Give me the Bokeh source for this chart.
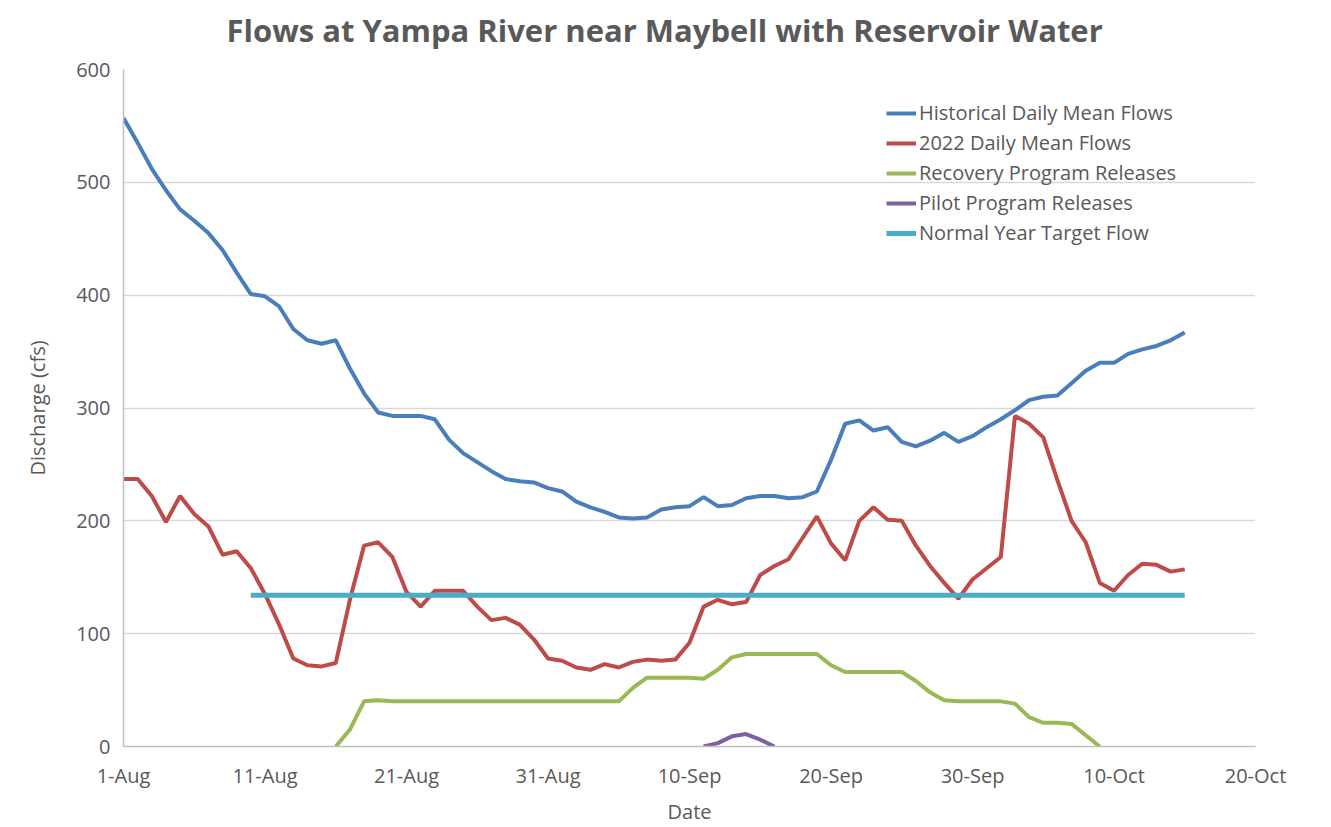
from bokeh.plotting import figure
from bokeh.models import Range1d, FixedTicker, Legend, LegendItem, Title
from bokeh.embed import file_html
from bokeh.resources import INLINE

# ---- data (day offsets from 1-Aug-2022) ----
hist_days = list(range(0, 76))
hist_flow = [557, 535, 512, 493, 476, 466, 455, 440, 420, 401,
             399, 390, 370, 360, 357, 360, 335, 313, 296, 293,
             293, 293, 290, 272, 260, 252, 244, 237, 235, 234,
             229, 226, 217, 212, 208, 203, 202, 203, 210, 212,
             213, 221, 213, 214, 220, 222, 222, 220, 221, 226,
             254, 286, 289, 280, 283, 270, 266, 271, 278, 270,
             275, 283, 290, 298, 307, 310, 311, 322, 333, 340,
             340, 348, 352, 355, 360, 367]

flow2022_days = list(range(0, 76))
flow2022 = [237, 237, 222, 199, 222, 206, 195, 170, 173, 158,
            135, 108, 78, 72, 71, 74, 130, 178, 181, 168,
            137, 124, 138, 138, 138, 124, 112, 114, 108, 95,
            78, 76, 70, 68, 73, 70, 75, 77, 76, 77,
            92, 124, 130, 126, 128, 152, 160, 166, 185, 204,
            180, 165, 200, 212, 201, 200, 178, 160, 145, 131,
            148, 158, 168, 293, 286, 274, 236, 200, 181, 145,
            138, 152, 162, 161, 155, 157]

recovery_days = list(range(15, 70))
recovery = [0, 15, 40, 41, 40, 40, 40, 40, 40, 40,
            40, 40, 40, 40, 40, 40, 40, 40, 40, 40,
            40, 52, 61, 61, 61, 61, 60, 68, 79, 82,
            82, 82, 82, 82, 82, 72, 66, 66, 66, 66,
            66, 58, 48, 41, 40, 40, 40, 40, 38, 26,
            21, 21, 20, 10, 0]

pilot_days = [41, 42, 43, 44, 45, 46]
pilot = [0, 3, 9, 11, 6, 0]

target_days = [9, 75]
target = [134, 134]

tick_days = [0, 10, 20, 30, 40, 50, 60, 70, 80]
tick_labels = ["1-Aug", "11-Aug", "21-Aug", "31-Aug", "10-Sep",
               "20-Sep", "30-Sep", "10-Oct", "20-Oct"]

TITLE = "Flows at Yampa River near Maybell with Reservoir Water"
FONT = "Open Sans"
GRAY = "#595959"

p = figure(width=1320, height=827, output_backend="svg", toolbar_location=None,
           x_range=Range1d(0, 80), y_range=Range1d(0, 600),
           min_border_left=123, min_border_right=65, min_border_top=69,
           min_border_bottom=81, title=TITLE)
p.title.align = "left"
p.title.offset = 103
p.title.vertical_align = "top"
p.title.standoff = 6
p.title.text_font = FONT
p.title.text_font_size = "31px"
p.title.text_font_style = "bold"
p.title.text_color = GRAY
p.outline_line_color = None

# empty spacer between the title and the plot frame
p.add_layout(Title(text=" ", text_font_size="11px", standoff=0), "above")

p.xgrid.grid_line_color = None
p.ygrid.grid_line_color = "#d9d9d9"
p.ygrid.grid_line_width = 1.5

p.xaxis.ticker = FixedTicker(ticks=tick_days)
p.xaxis.major_label_overrides = {d: l for d, l in zip(tick_days, tick_labels)}
p.yaxis.ticker = FixedTicker(ticks=[0, 100, 200, 300, 400, 500, 600])

for ax in (p.xaxis, p.yaxis):
    ax.axis_line_color = "#bfbfbf"
    ax.axis_line_width = 1.5
    ax.major_tick_line_color = None
    ax.minor_tick_line_color = None
    ax.major_tick_out = 0
    ax.major_tick_in = 0
    ax.major_label_text_font = FONT
    ax.major_label_text_font_size = "20px"
    ax.major_label_text_color = GRAY
    ax.axis_label_text_font = FONT
    ax.axis_label_text_font_size = "20px"
    ax.axis_label_text_font_style = "normal"
    ax.axis_label_text_color = GRAY

p.xaxis.axis_label = "Date"
p.yaxis.axis_label = "Discharge (cfs)"
p.xaxis.major_label_standoff = 15
p.yaxis.major_label_standoff = 13
p.xaxis.axis_label_standoff = 6
p.yaxis.axis_label_standoff = 22

r1 = p.line(hist_days, hist_flow, line_color="#4A7EBB", line_width=4)
r2 = p.line(flow2022_days, flow2022, line_color="#BE4B48", line_width=4)
r3 = p.line(recovery_days, recovery, line_color="#98B954", line_width=4)
r4 = p.line(pilot_days, pilot, line_color="#7D60A0", line_width=4)
r5 = p.line(target_days, target, line_color="#4BACC6", line_width=5)

legend = Legend(items=[
    LegendItem(label="Historical Daily Mean Flows", renderers=[r1]),
    LegendItem(label="2022 Daily Mean Flows", renderers=[r2]),
    LegendItem(label="Recovery Program Releases", renderers=[r3]),
    LegendItem(label="Pilot Program Releases", renderers=[r4]),
    LegendItem(label="Normal Year Target Flow", renderers=[r5]),
], location=(763, 500))
legend.border_line_color = None
legend.background_fill_alpha = 0
legend.label_text_font = FONT
legend.label_text_font_size = "20px"
legend.label_text_color = GRAY
legend.glyph_width = 30
legend.glyph_height = 20
legend.label_height = 20
legend.spacing = 3
legend.padding = 5
legend.margin = 0
legend.label_standoff = 3
p.add_layout(legend)

open("out.html", "w").write(file_html(p, INLINE))
